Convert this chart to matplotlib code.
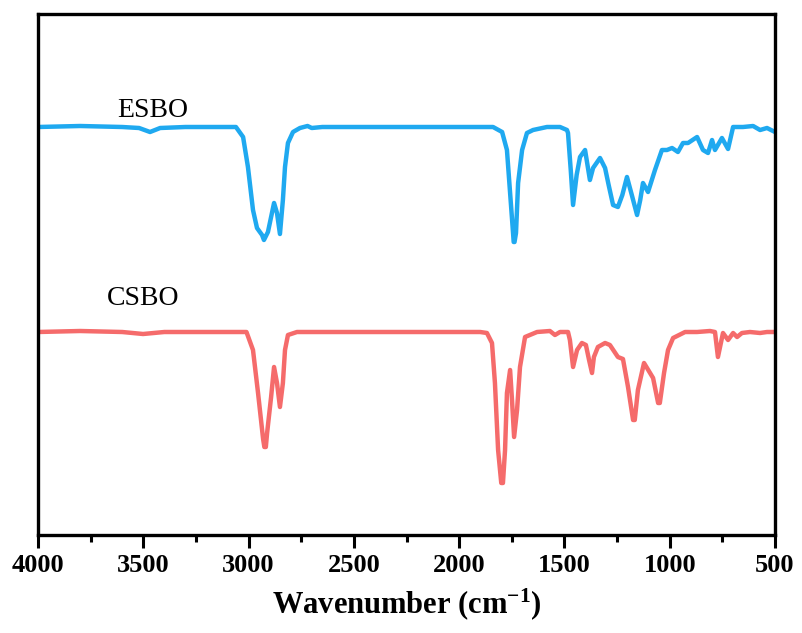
import matplotlib
matplotlib.use("Agg")
import matplotlib.pyplot as plt
from matplotlib.ticker import MultipleLocator

plt.rcParams["font.family"] = ["Liberation Serif", "DejaVu Serif"]
plt.rcParams["mathtext.fontset"] = "custom"
plt.rcParams["mathtext.rm"] = "Liberation Serif:bold"
plt.rcParams["mathtext.it"] = "Liberation Serif:bold"
plt.rcParams["mathtext.bf"] = "Liberation Serif:bold"
plt.rcParams["mathtext.default"] = "rm"

# ---- data (transmittance, arbitrary units, curves offset) ----
esbo_wn = [4000, 3800, 3600, 3520, 3468, 3420, 3300, 3150, 3060, 3026, 3003, 2979, 2960,
           2936, 2927, 2908, 2879, 2865, 2851, 2837, 2827, 2813, 2789, 2756, 2720, 2700,
           2650, 2400, 2100, 1900, 1839, 1796, 1773, 1758, 1744, 1741, 1737, 1730, 1720, 1701,
           1678, 1649, 1583, 1521, 1488, 1483, 1470, 1459, 1442, 1426, 1402, 1379, 1364,
           1331, 1307, 1290, 1269, 1246, 1225, 1203, 1180, 1155, 1140, 1127, 1103, 1070,
           1037, 1013, 989, 961, 937, 913, 870, 842, 818, 799, 785, 752, 723, 699, 652,
           604, 571, 538, 500]
esbo_t = [408, 409, 408, 407, 403, 407, 408, 408, 408, 398, 368, 325, 307,
          300, 295, 303, 332, 322, 301, 335, 368, 392, 403, 407, 409, 407,
          408, 408, 408, 408, 408, 403, 385, 342, 302, 293, 293, 302, 352, 385,
          402, 405, 408, 408, 405, 402, 365, 330, 360, 378, 385, 355, 367,
          377, 367, 350, 330, 328, 340, 358, 340, 320, 335, 352, 343, 365,
          385, 385, 387, 383, 392, 392, 398, 385, 382, 395, 385, 397, 386, 408, 408,
          409, 405, 407, 403]

csbo_wn = [4000, 3800, 3600, 3501, 3400, 3100, 3010, 2979, 2955, 2931, 2925, 2918, 2912, 2893,
           2879, 2865, 2851, 2837, 2827, 2813, 2770, 2500, 2200, 1900, 1868, 1844, 1830,
           1815, 1800, 1792, 1782, 1773, 1758, 1749, 1739, 1725, 1711, 1687, 1630, 1569, 1545,
           1521, 1483, 1474, 1459, 1440, 1417, 1398, 1383, 1369, 1360, 1341, 1307, 1284,
           1246, 1222, 1198, 1174, 1166, 1151, 1122, 1079, 1055, 1047, 1027, 1008, 984, 927, 870,
           809, 785, 771, 747, 723, 699, 680, 657, 619, 571, 538, 500]
csbo_t = [203, 204, 203, 201, 203, 203, 203, 185, 142, 96, 88, 88, 102, 138,
          168, 152, 128, 152, 185, 200, 203, 203, 203, 203, 202, 192, 152,
          85, 52, 52, 85, 142, 165, 135, 98, 125, 168, 198, 203, 204, 200,
          203, 203, 195, 168, 185, 192, 190, 175, 162, 178, 188, 192, 190,
          178, 176, 148, 115, 115, 145, 172, 157, 132, 132, 162, 185, 197, 203, 203,
          204, 203, 178, 202, 195, 202, 198, 202, 203, 202, 203, 203]

labels = ["ESBO", "CSBO"]
colors = ["#1FA9F0", "#F56B6B"]
label_pos = [(3454, 418), (3501, 230)]
x_ticks = [4000, 3500, 3000, 2500, 2000, 1500, 1000, 500]

fig = plt.figure(figsize=(8.02, 6.33), dpi=100)
ax = fig.add_axes([38 / 802, 1 - 535 / 633, (775 - 38) / 802, (535 - 14) / 633])

for wn, t, c in zip([esbo_wn, csbo_wn], [esbo_t, csbo_t], colors):
    ax.plot(wn, t, color=c, lw=3.2, solid_joinstyle="round", solid_capstyle="round")

for lab, (x, y) in zip(labels, label_pos):
    ax.text(x, y, lab, ha="center", va="baseline", fontsize=20, color="black")

ax.set_xlim(4000, 500)
ax.set_ylim(0, 521)
ax.set_xticks(x_ticks)
ax.xaxis.set_minor_locator(MultipleLocator(250))
ax.set_yticks([])
ax.tick_params(axis="x", which="major", direction="out", length=9, width=2.2,
               labelsize=19, pad=5)
ax.tick_params(axis="x", which="minor", direction="out", length=5, width=2.2)
for lbl in ax.get_xticklabels():
    lbl.set_fontweight("bold")
for s in ax.spines.values():
    s.set_linewidth(2.4)

ax.set_xlabel("Wavenumber (cm$^{-1}$)", fontsize=22, fontweight="bold", labelpad=6)

fig.savefig("out.png", dpi=100)
